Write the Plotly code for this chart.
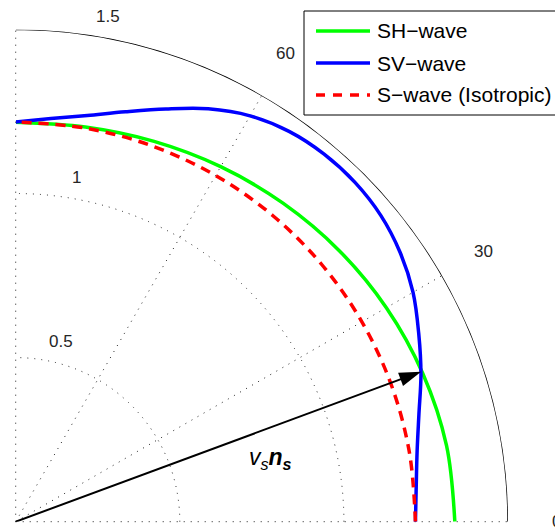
import math
import plotly.graph_objects as go

# Phase-velocity curves (radius vs. angle from the horizontal, degrees)
theta_sh = [0, 10, 20, 30, 40, 50, 60, 70, 80, 90]
r_sh = [1.338, 1.333, 1.320, 1.304, 1.286, 1.267, 1.249, 1.233, 1.221, 1.217]

theta_sv = [0, 5, 10, 15, 20, 25, 30, 35, 40, 45, 50, 55, 60, 65, 70, 75, 80, 85, 90]
r_sv = [1.218, 1.225, 1.242, 1.272, 1.314, 1.355, 1.398, 1.430, 1.452, 1.462,
        1.462, 1.452, 1.428, 1.388, 1.338, 1.293, 1.257, 1.233, 1.218]

theta_iso = [0, 10, 20, 30, 40, 50, 60, 70, 80, 90]
r_iso = [1.218] * len(theta_iso)

# Velocity vector v_s n_s
arrow_theta = 20.3
arrow_r = 1.317

r_max = 1.5
radial_ticks = [0.5, 1, 1.5]
radial_labels = ["0.5", "1", "1.5"]
angular_ticks = [0, 30, 60, 90]
angular_label_ticks = [0, 30, 60]
angular_labels = ["0", "30", "60"]

W, H = 555, 531
FONT = "Liberation Sans, Arial, Helvetica, sans-serif"

# Pixel geometry of the quarter-circle frame
ox, oy, R = 15.7, 521.7, 492.3

fig = go.Figure()

fig.add_trace(go.Scatterpolar(
    r=r_sh, theta=theta_sh, mode="lines", name="SH\u2212wave",
    line=dict(color="#00ff00", width=3.5, shape="spline"), showlegend=False))
fig.add_trace(go.Scatterpolar(
    r=r_sv, theta=theta_sv, mode="lines", name="SV\u2212wave",
    line=dict(color="#0000ff", width=3.5, shape="spline"), showlegend=False))
fig.add_trace(go.Scatterpolar(
    r=r_iso, theta=theta_iso, mode="lines", name="S\u2212wave (Isotropic)",
    line=dict(color="#ff0000", width=3.5, shape="spline", dash="10px,7px"),
    showlegend=False))

# Outer boundary arc at the top of the radial range
arc_theta = list(range(0, 91))
fig.add_trace(go.Scatterpolar(
    r=[r_max] * len(arc_theta), theta=arc_theta, mode="lines",
    line=dict(color="black", width=1.5), showlegend=False, cliponaxis=False,
    hoverinfo="skip"))

# Arrow from the origin to the SH/SV crossing point
fig.add_trace(go.Scatterpolar(
    r=[0, arrow_r], theta=[arrow_theta, arrow_theta], mode="lines+markers",
    line=dict(color="black", width=2),
    marker=dict(symbol="arrow", angleref="previous", size=[0, 23],
                color="black", opacity=1, line=dict(width=0, color="black")),
    showlegend=False, cliponaxis=False))

fig.update_layout(
    width=W, height=H,
    margin=dict(l=0, r=0, t=0, b=0),
    paper_bgcolor="white",
    plot_bgcolor="white",
    polar=dict(
        sector=[0, 90],
        domain=dict(x=[ox / W, (ox + R) / W], y=[(H - oy) / H, (H - oy + R) / H]),
        bgcolor="white",
        radialaxis=dict(range=[0, r_max], tickvals=radial_ticks, showticklabels=False,
                        ticks="", showline=False, gridcolor="#222222",
                        griddash="1px,6px", gridwidth=1),
        angularaxis=dict(tickvals=angular_ticks, showticklabels=False, ticks="",
                         showline=False, gridcolor="#222222", griddash="1px,6px",
                         gridwidth=1, direction="counterclockwise", rotation=0),
    ),
)


def to_paper(r, deg):
    a = math.radians(deg)
    x = ox + r / r_max * R * math.cos(a)
    y = oy - r / r_max * R * math.sin(a)
    return x / W, 1 - y / H


# Radial tick labels along ~80 degrees
for txt, rr, tt in zip(radial_labels, [0.567, 1.065, 1.566], [76.0, 80.0, 79.7]):
    x, y = to_paper(rr, tt)
    fig.add_annotation(xref="paper", yref="paper", x=x, y=y, showarrow=False,
                       xanchor="center", yanchor="middle", text=txt,
                       font=dict(family=FONT, size=17, color="#262626"))

# Angular tick labels outside the outer circle
for txt, tt in zip(angular_labels, angular_label_ticks):
    x, y = to_paper(1.647, tt)
    fig.add_annotation(xref="paper", yref="paper", x=x, y=y, showarrow=False,
                       xanchor="center", yanchor="middle", text=txt,
                       font=dict(family=FONT, size=17, color="#262626"))

# Legend box drawn by hand (it runs off the right edge)
px = lambda v: v / W
py = lambda v: 1 - v / H
fig.add_shape(type="rect", xref="paper", yref="paper",
              x0=px(304), x1=px(620), y0=py(115), y1=py(11),
              line=dict(color="black", width=1), fillcolor="white", layer="above")
legend_rows = [("SH\u2212wave", "#00ff00", "solid", 31),
               ("SV\u2212wave", "#0000ff", "solid", 63),
               ("S\u2212wave (Isotropic)", "#ff0000", "9px,8px", 95)]
for label, color, dash, yy in legend_rows:
    fig.add_shape(type="line", xref="paper", yref="paper",
                  x0=px(316), x1=px(370), y0=py(yy), y1=py(yy),
                  line=dict(color=color, width=3.5, dash=dash), layer="above")
    fig.add_annotation(xref="paper", yref="paper", x=px(375), y=py(yy),
                       xanchor="left", yanchor="middle", showarrow=False,
                       text=label, font=dict(family=FONT, size=21, color="black"))

# Vector label
fig.add_annotation(
    xref="paper", yref="paper", x=px(270), y=py(458),
    xanchor="center", yanchor="middle", showarrow=False,
    text="<i>v</i><sub><i>s</i></sub><b><i>n</i></b><sub><b><i>s</i></b></sub>",
    font=dict(family=FONT, size=23, color="black"))

fig.write_html("out.html")
